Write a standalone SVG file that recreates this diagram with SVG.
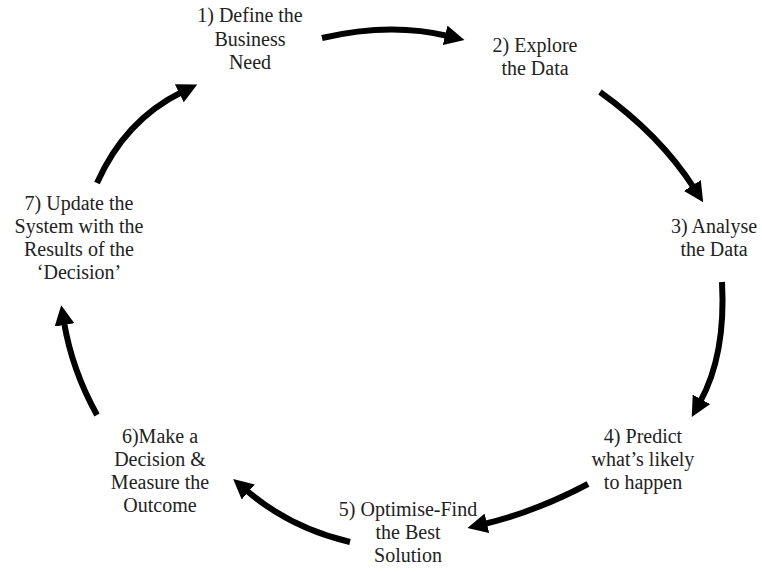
<svg xmlns="http://www.w3.org/2000/svg" width="762" height="573" viewBox="0 0 762 573">
<style>
text{font-family:"Liberation Serif","Times New Roman",serif;font-size:20px;fill:#222;text-anchor:middle}
.c{fill:none;stroke:#000;stroke-width:6;stroke-linecap:butt}
</style>
<defs>
<marker id="ah" viewBox="0 0 20 20" markerWidth="20" markerHeight="20" refX="3" refY="10" orient="auto" markerUnits="userSpaceOnUse">
<path d="M0,0 L20,10 L0,20 z" fill="#000"/>
</marker>
</defs>
<rect width="762" height="573" fill="#fff"/>
<g id="n1"><text x="250" y="22">1) Define the</text><text x="250" y="46">Business</text><text x="250" y="69">Need</text></g>
<g id="n2"><text x="535" y="52">2) Explore</text><text x="535" y="75">the Data</text></g>
<g id="n3"><text x="714" y="233">3) Analyse</text><text x="714" y="256">the Data</text></g>
<g id="n4"><text x="643" y="443">4) Predict</text><text x="643" y="466">what’s likely</text><text x="643" y="489">to happen</text></g>
<g id="n5"><text x="408" y="516">5) Optimise-Find</text><text x="408" y="539">the Best</text><text x="408" y="562">Solution</text></g>
<g id="n6"><text x="160" y="443">6)Make a</text><text x="160" y="466">Decision &amp;</text><text x="160" y="489">Measure the</text><text x="160" y="512">Outcome</text></g>
<g id="n7"><text x="79" y="210">7) Update the</text><text x="79" y="233">System with the</text><text x="79" y="256">Results of the</text><text x="79" y="279">‘Decision’</text></g>
<g id="connectors">
<path class="c" marker-end="url(#ah)" d="M322,38 Q390,22 448,36"/>
<path class="c" marker-end="url(#ah)" d="M600,92 Q660,135 694,188"/>
<path class="c" marker-end="url(#ah)" d="M722,282 Q726,355 700,402"/>
<path class="c" marker-end="url(#ah)" d="M588,484 Q535,512 484,524"/>
<path class="c" marker-end="url(#ah)" d="M350,542 Q290,528 246,490"/>
<path class="c" marker-end="url(#ah)" d="M97,415 Q72,370 64,322"/>
<path class="c" marker-end="url(#ah)" d="M97,183 Q125,120 182,92"/>
</g>
</svg>
